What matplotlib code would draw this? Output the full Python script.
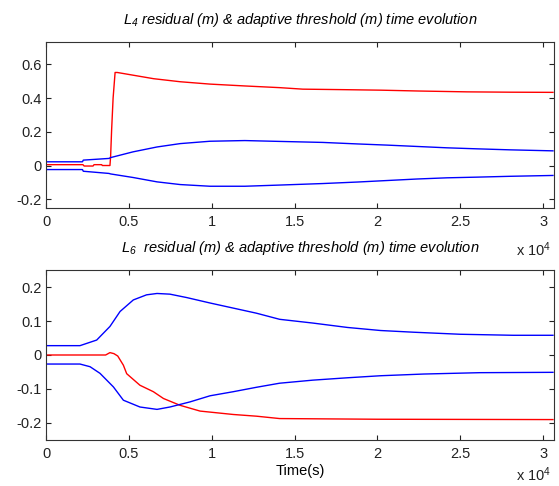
import numpy as np
import matplotlib.pyplot as plt
from matplotlib.ticker import FuncFormatter

plt.rcParams['font.family'] = ['Liberation Sans', 'DejaVu Sans']
plt.rcParams['mathtext.fontset'] = 'custom'
plt.rcParams['mathtext.rm'] = 'Liberation Sans:italic'
plt.rcParams['mathtext.it'] = 'Liberation Sans:italic'

# L4 residual and thresholds (time in s)
t4_red = [0, 2230, 2300, 2840, 2900, 3360, 3400, 3860, 3900, 3960, 4050, 4170, 4300, 5250, 6500,
          8100, 9900, 12000, 14100, 15500, 18000, 20200, 22500, 25400, 28000, 30600]
r4 = [0.005, 0.005, -0.003, -0.003, 0.005, 0.005, 0.0, 0.0, 0.055, 0.21, 0.40, 0.552, 0.552, 0.536, 0.515,
      0.497, 0.483, 0.472, 0.462, 0.453, 0.450, 0.447, 0.442, 0.437, 0.435, 0.434]
t4_thr = [0, 2200, 2250, 3800, 3900, 5250, 6700, 8100, 9900, 12000, 14100, 16700, 18800, 20600,
          22400, 24200, 26000, 28000, 30600]
u4 = [0.022, 0.022, 0.032, 0.042, 0.047, 0.081, 0.110, 0.130, 0.144, 0.148, 0.143, 0.137, 0.128, 0.121,
      0.113, 0.105, 0.099, 0.093, 0.087]
l4 = [-0.024, -0.024, -0.034, -0.047, -0.050, -0.071, -0.097, -0.113, -0.123, -0.123, -0.116, -0.107,
      -0.098, -0.089, -0.080, -0.073, -0.069, -0.064, -0.059]

# L6 residual and thresholds
t6_red = [0, 3000, 3600, 3860, 4100, 4330, 4670, 4870, 5670, 6480, 7090, 8090, 9300, 11300, 12700,
          14100, 20000, 30600]
r6 = [0.0, 0.0, 0.0, 0.007, 0.004, -0.003, -0.03, -0.055, -0.089, -0.108, -0.128, -0.148, -0.165, -0.175,
      -0.180, -0.187, -0.189, -0.190]
t6_up = [0, 2050, 3060, 3860, 4470, 5270, 6070, 6700, 7480, 8490, 9900, 11300, 12700, 14100, 16100,
         18200, 20200, 22200, 25000, 28200, 30600]
u6 = [0.0275, 0.0275, 0.044, 0.084, 0.128, 0.162, 0.177, 0.181, 0.179, 0.169, 0.153, 0.138, 0.123, 0.105,
      0.094, 0.081, 0.072, 0.067, 0.061, 0.058, 0.058]
t6_lo = [0, 2050, 2660, 3260, 4070, 4670, 5670, 6700, 7480, 8690, 9900, 11300, 12700, 14100, 16100,
         18200, 20200, 22800, 26200, 30600]
l6 = [-0.0266, -0.0266, -0.0345, -0.054, -0.094, -0.133, -0.153, -0.160, -0.153, -0.138, -0.120, -0.108,
      -0.095, -0.083, -0.074, -0.067, -0.061, -0.056, -0.052, -0.051]

fig = plt.figure(figsize=(5.59, 4.86), dpi=100)
ax1 = fig.add_axes([0.0823, 0.571, 0.9087, 0.343])
ax2 = fig.add_axes([0.0823, 0.0947, 0.9087, 0.3497])

xfmt = FuncFormatter(lambda v, p: '%g' % (v / 1e4))
yfmt = FuncFormatter(lambda v, p: '%g' % round(v, 3))
fs = 10.5


def style(ax, ylim, yticks):
    ax.set_xlim(0, 30660)
    ax.set_ylim(*ylim)
    ax.set_xticks(np.arange(0, 30001, 5000))
    ax.set_yticks(yticks)
    ax.xaxis.set_major_formatter(xfmt)
    ax.yaxis.set_major_formatter(yfmt)
    ax.tick_params(direction='in', length=3.6, width=0.8, top=True, right=True,
                   labelsize=fs, colors='#222222')
    ax.tick_params(axis='x', pad=5)
    ax.tick_params(axis='y', pad=3)
    for s in ax.spines.values():
        s.set_color('#333333')
        s.set_linewidth(0.8)


ax1.plot(t4_red, r4, color='#ff0000', lw=1.0)
ax1.plot(t4_thr, u4, color='#0000ff', lw=1.0)
ax1.plot(t4_thr, l4, color='#0000ff', lw=1.0)
style(ax1, (-0.255, 0.734), [-0.2, 0, 0.2, 0.4, 0.6])
ax1.set_title(r'$L_4$ residual (m) & adaptive threshold (m) time evolution',
              fontsize=fs, style='italic', pad=13)

ax2.plot(t6_red, r6, color='#ff0000', lw=1.0)
ax2.plot(t6_up, u6, color='#0000ff', lw=1.0)
ax2.plot(t6_lo, l6, color='#0000ff', lw=1.0)
style(ax2, (-0.25, 0.25), [-0.2, -0.1, 0, 0.1, 0.2])
ax2.set_title(r'$L_6$  residual (m) & adaptive threshold (m) time evolution',
              fontsize=fs, style='italic', pad=13)
ax2.set_xlabel('Time(s)', fontsize=fs, labelpad=2)

ax1.text(0.96, -0.25, r'x 10$^{\mathregular{4}}$', transform=ax1.transAxes,
         fontsize=fs, ha='center', va='center', color='#222222')
ax2.text(0.96, -0.205, r'x 10$^{\mathregular{4}}$', transform=ax2.transAxes,
         fontsize=fs, ha='center', va='center', color='#222222')

fig.savefig('out.png', dpi=100)
